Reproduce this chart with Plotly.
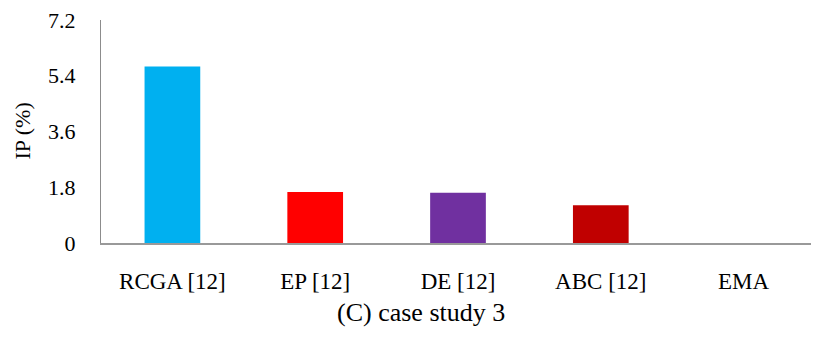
import plotly.graph_objects as go

categories = ["RCGA [12]", "EP [12]", "DE [12]", "ABC [12]", "EMA"]
ip_values = [5.7, 1.65, 1.62, 1.22, 0.0]
bar_colors = ["#00B0F0", "#FF0000", "#7030A0", "#C00000", "#7F7F7F"]
y_ticks = [0, 1.8, 3.6, 5.4, 7.2]
y_tick_labels = ["0", "1.8", "3.6", "5.4", "7.2"]

# the page body adds an 8px offset, so the figure is sized/placed to compensate
OFF = 8
W, H = 819 - OFF, 338 - OFF
L, R, T, B = 101 - OFF, 4, 20 - OFF, 95
pw, ph = W - L - R, H - T - B

FONT = "Liberation Serif"

fig = go.Figure(go.Bar(
    x=categories, y=ip_values,
    marker=dict(color=bar_colors, line=dict(width=0)),
    width=0.39,
))

fig.update_layout(
    width=W, height=H,
    margin=dict(l=L, r=R, t=T, b=B, autoexpand=False),
    paper_bgcolor="white", plot_bgcolor="white",
    showlegend=False,
    font=dict(family=FONT, color="#000000"),
    xaxis=dict(
        showline=True, linecolor="#999999", linewidth=2,
        showgrid=False, ticks="", tickfont=dict(size=23, family=FONT),
        ticklabelstandoff=16, automargin=False,
    ),
    yaxis=dict(
        range=[0, 7.2], tickvals=y_ticks, ticktext=y_tick_labels,
        showline=True, linecolor="#8c8c8c", linewidth=1,
        showgrid=False, zeroline=False, ticks="",
        tickfont=dict(size=22, family=FONT),
        ticklabelstandoff=20, automargin=False,
        ticklabeloverflow="allow",
    ),
    annotations=[
        dict(text="IP (%)", textangle=-90, x=(22 - OFF - L) / pw, y=0.5,
             xref="paper", yref="paper", xanchor="center", yanchor="middle",
             showarrow=False, font=dict(size=22, family=FONT)),
        dict(text="(C) case study 3", x=(421 - OFF - L) / pw,
             y=-(312 - OFF - (T + ph)) / ph,
             xref="paper", yref="paper", xanchor="center", yanchor="middle",
             showarrow=False, font=dict(size=26, family=FONT)),
    ],
)

fig.write_html("out.html")
